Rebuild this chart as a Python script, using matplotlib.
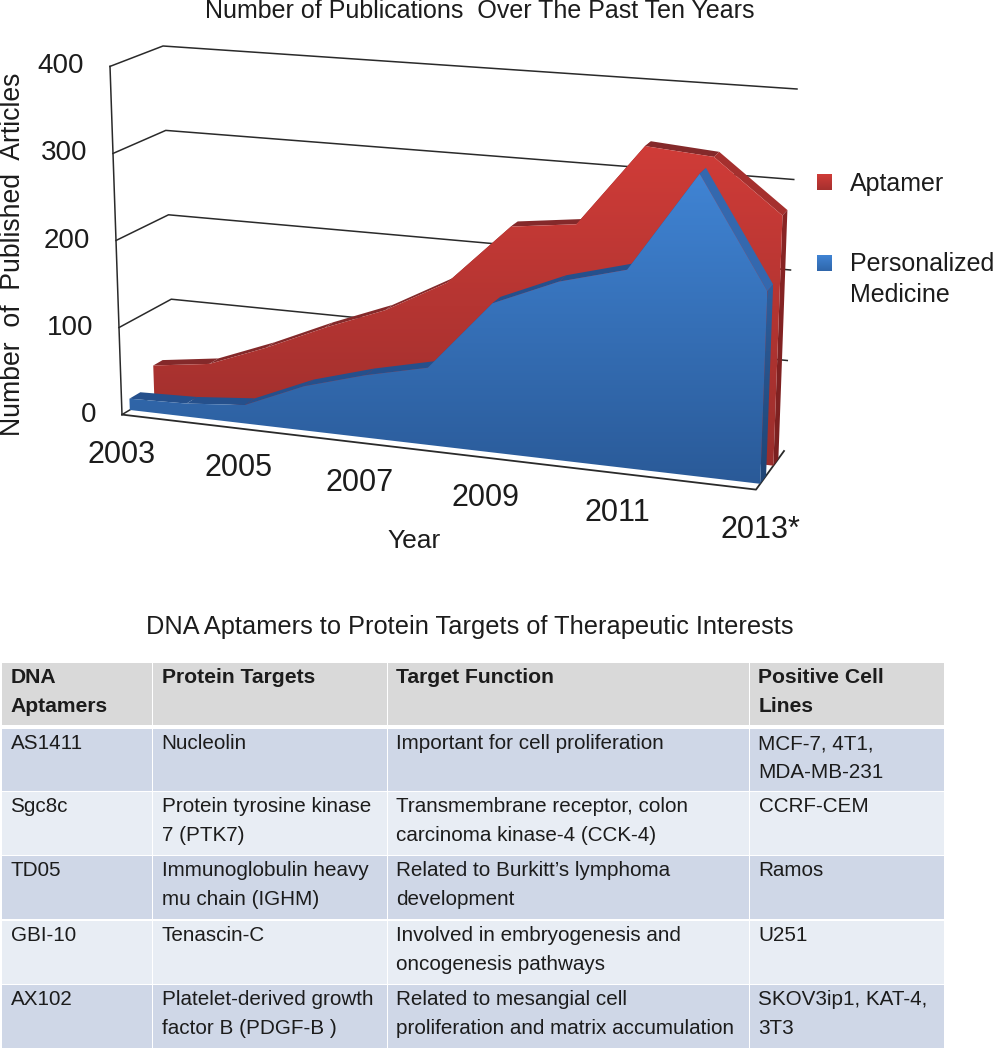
import numpy as np
import matplotlib
matplotlib.use('Agg')
import matplotlib.pyplot as plt
from matplotlib.patches import Polygon, Rectangle

plt.rcParams['font.family'] = ['Liberation Sans', 'DejaVu Sans']

years = [2003, 2004, 2005, 2006, 2007, 2008, 2009, 2010, 2011, 2012, 2013]
aptamer = [35, 44, 70, 100, 127, 165, 235, 244, 337, 331, 273]
personalized = [13, 15, 21, 50, 70, 86, 165, 196, 216, 327, 207]
y_ticks = [0, 100, 200, 300, 400]
x_ticks = ['2003', '2005', '2007', '2009', '2011', '2013*']

table_header = ['DNA\nAptamers', 'Protein Targets', 'Target Function', 'Positive Cell\nLines']
table_rows = [
    ['AS1411', 'Nucleolin', 'Important for cell proliferation', 'MCF-7, 4T1,\nMDA-MB-231'],
    ['Sgc8c', 'Protein tyrosine kinase\n7 (PTK7)', 'Transmembrane receptor, colon\ncarcinoma kinase-4 (CCK-4)', 'CCRF-CEM'],
    ['TD05', 'Immunoglobulin heavy\nmu chain (IGHM)', 'Related to Burkitt\u2019s lymphoma\ndevelopment', 'Ramos'],
    ['GBI-10', 'Tenascin-C', 'Involved in embryogenesis and\noncogenesis pathways', 'U251'],
    ['AX102', 'Platelet-derived growth\nfactor B (PDGF-B )', 'Related to mesangial cell\nproliferation and matrix accumulation', 'SKOV3ip1, KAT-4,\n3T3'],
]

# corners of the fake 3d box, in image pixels
FRONT_L0, FRONT_L4 = np.array([122., 414.6]), np.array([110., 66.4])
FRONT_R0, FRONT_R4 = np.array([756., 489.6]), np.array([770., 115.7])
BACK_L0, BACK_L4 = np.array([174., 383.6]), np.array([163., 46.])
BACK_R0, BACK_R4 = np.array([784., 451.]), np.array([797., 89.])


def project(t, value, z):
    # t 0..1 along the years, value 0..400, z 0..1 front to back
    s = t / (t + 1.116 * (1 - t))
    v = value / 400
    front = (FRONT_L0 * (1 - s) + FRONT_R0 * s) * (1 - v) + (FRONT_L4 * (1 - s) + FRONT_R4 * s) * v
    back = (BACK_L0 * (1 - s) + BACK_R0 * s) * (1 - v) + (BACK_L4 * (1 - s) + BACK_R4 * s) * v
    return front * (1 - z) + back * z


def gradient_fill(ax, pts, top_color, bottom_color, zorder):
    pts = np.array(pts)
    c1 = np.array(matplotlib.colors.to_rgb(top_color))
    c2 = np.array(matplotlib.colors.to_rgb(bottom_color))
    f = np.linspace(0, 1, 256)[:, None]
    img = (c1 * (1 - f) + c2 * f)[:, None, :]
    x0, x1, y0, y1 = pts[:, 0].min(), pts[:, 0].max(), pts[:, 1].min(), pts[:, 1].max()
    im = ax.imshow(img, extent=[x0, x1, y1, y0], aspect='auto', zorder=zorder, interpolation='bilinear')
    patch = Polygon(pts, closed=True, transform=ax.transData, fc='none', ec='none')
    ax.add_patch(patch)
    im.set_clip_path(patch)


def draw_area(ax, values, z0, z1, colors, zorder):
    n = len(values)
    ts = [i / (n - 1) for i in range(n)]
    # top surface between the front and the back outline
    for i in range(n - 1):
        falling = values[i + 1] < values[i] - 20
        quad = [project(ts[i], values[i], z0), project(ts[i + 1], values[i + 1], z0),
                project(ts[i + 1], values[i + 1], z1), project(ts[i], values[i], z1)]
        ax.add_patch(Polygon(quad, closed=True, fc=colors['fall'] if falling else colors['top'],
                             ec='none', zorder=zorder))
    # right end
    side = [project(1, values[-1], z0), project(1, values[-1], z1),
            project(1, 0, z1), project(1, 0, z0)]
    gradient_fill(ax, side, colors['side_hi'], colors['side_lo'], zorder + 0.1)
    # front face
    front = [project(0, 0, z0)] + [project(t, v, z0) for t, v in zip(ts, values)] + [project(1, 0, z0)]
    gradient_fill(ax, front, colors['hi'], colors['lo'], zorder + 0.2)


fig = plt.figure(figsize=(9.99, 10.5), dpi=100)
ax = fig.add_axes([0, 0, 1, 1])

text_color = '#1c1c1c'
line_color = '#2a2a2a'

# gridlines on the side and back walls
for v in y_ticks[1:]:
    a, b, c = project(0, v, 0), project(0, v, 1), project(1, v, 1)
    ax.plot([a[0], b[0], c[0]], [a[1], b[1], c[1]], color=line_color, lw=1.1, zorder=1)
a, b = project(0, 0, 0), project(0, 400, 0)
ax.plot([a[0], b[0]], [a[1], b[1]], color=line_color, lw=1.1, zorder=1)
a, b, c = project(0, 0, 0), project(1, 0, 0), project(1, 0, 1)
ax.plot([a[0], b[0], c[0]], [a[1], b[1], c[1]], color=line_color, lw=1.3, zorder=1)
a = project(0, 0, 1)
ax.plot([project(0, 0, 0)[0], a[0]], [project(0, 0, 0)[1], a[1]], color=line_color, lw=1.1, zorder=1)

red = dict(hi='#d03c38', lo='#9a2e2c', top='#84292a', fall='#a5302e', side_hi='#8a2525', side_lo='#7a2020')
blue = dict(hi='#4084d4', lo='#2a5a98', top='#25508c', fall='#3468ae', side_hi='#2e5f9e', side_lo='#1f4474')
draw_area(ax, aptamer, 0.62, 0.80, red, 2)
draw_area(ax, personalized, 0.15, 0.36, blue, 3)

# axis labels
for v in y_ticks:
    p = project(0, v, 0)
    ax.text(p[0] - 26, p[1], str(v), ha='right', va='center', fontsize=20, color=text_color)
for i, lab in enumerate(x_ticks):
    p = project(i / 5, 0, 0)
    ax.text(p[0] + (4 if i == 5 else 0), p[1] + 40, lab, ha='center', va='center', fontsize=22, color=text_color)
ax.text(13, 254, 'Number  of  Published  Articles', rotation=90, ha='center', va='center',
        fontsize=19.2, color=text_color)
ax.text(414, 541, 'Year', ha='center', va='center', fontsize=19, color=text_color)
ax.text(480, 11, 'Number of Publications  Over The Past Ten Years', ha='center', va='center',
        fontsize=18, color=text_color)

# legend
gradient_fill(ax, [(817, 174), (832, 174), (832, 190), (817, 190)], '#d03c38', '#a5302e', 4)
gradient_fill(ax, [(817, 255), (832, 255), (832, 271), (817, 271)], '#4084d4', '#2f66aa', 4)
ax.text(850, 191, 'Aptamer', ha='left', va='baseline', fontsize=18, color=text_color)
ax.text(850, 271, 'Personalized', ha='left', va='baseline', fontsize=18, color=text_color)
ax.text(850, 302, 'Medicine', ha='left', va='baseline', fontsize=18, color=text_color)

# table
ax.text(470, 627, 'DNA Aptamers to Protein Targets of Therapeutic Interests', ha='center', va='center',
        fontsize=18.3, color=text_color)
col_edges = [2, 153, 388, 750, 945]
row_edges = [(663, 725), (729, 791), (792, 855), (856, 919), (921, 984), (985, 1048)]
all_rows = [table_header] + table_rows
for r, row in enumerate(all_rows):
    top, bottom = row_edges[r]
    if r == 0:
        fill = '#d9d9d9'
    elif r % 2 == 1:
        fill = '#cfd7e7'
    else:
        fill = '#e8edf4'
    for c, cell in enumerate(row):
        ax.add_patch(Rectangle((col_edges[c], top), col_edges[c + 1] - col_edges[c] - 1.5, bottom - top,
                               fc=fill, ec='none', zorder=1))
        for k, line in enumerate(cell.split('\n')):
            ax.text(col_edges[c] + 8.5, top + 20 + k * 29, line, ha='left', va='baseline',
                    fontsize=15.2 if r == 0 else 14.9,
                    color=text_color, fontweight='bold' if r == 0 else 'normal', zorder=5)

ax.set_xlim(0, 999)
ax.set_ylim(1050, 0)
ax.axis('off')
fig.savefig('out.png', dpi=100)
